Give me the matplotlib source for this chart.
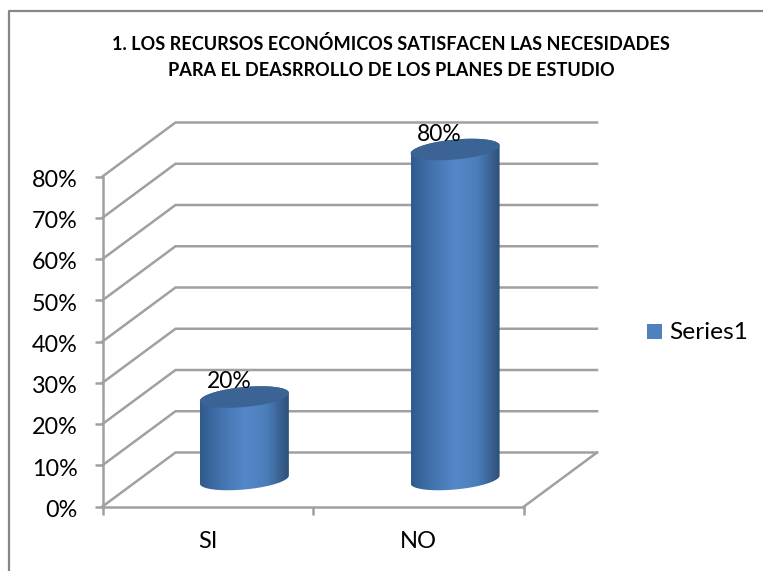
import numpy as np
import matplotlib
matplotlib.use('Agg')
import matplotlib.pyplot as plt
from matplotlib.colors import LinearSegmentedColormap
from matplotlib.patches import Polygon, Rectangle
from matplotlib.transforms import ScaledTranslation

plt.rcParams['font.family'] = ['Lato', 'DejaVu Sans']

title_lines = ['1. LOS RECURSOS ECONÓMICOS SATISFACEN LAS NECESIDADES',
               'PARA EL DEASRROLLO DE LOS PLANES DE ESTUDIO']
categories = ['SI', 'NO']
values = [20, 80]
value_ticks = [0, 10, 20, 30, 40, 50, 60, 70, 80]
series_name = 'Series1'

W, H = 763, 571
GRAY = '#a0a0a0'

# axes box is the front face of the fake 3D box, all in pixels of the reference
left, right, bottom, top = 102.5, 524.0, 506.5, 176.5
px_x = (right - left) / len(categories)
px_y = (bottom - top) / max(value_ticks)
depth_x = 73.0 / px_x
depth_y = 54.0 / px_y

fig = plt.figure(figsize=(W / 100, H / 100), dpi=100, facecolor='white')
ax = fig.add_axes([left / W, 1 - bottom / H, (right - left) / W, (bottom - top) / H])
ax.patch.set_visible(False)

# outer frame, only top and left are in the picture
fig.add_artist(plt.Line2D([8.5 / W, 8.5 / W, 1], [0, 1 - 10.5 / H, 1 - 10.5 / H],
                          color='#868686', lw=1.6))

fig.text(391 / W, 1 - 44.5 / H, title_lines[0], ha='center', va='center',
         fontsize=13.1, fontweight='bold', color='black')
fig.text(391 / W, 1 - 70 / H, title_lines[1], ha='center', va='center',
         fontsize=13.1, fontweight='bold', color='black')

# walls
n = len(categories)
for v in value_ticks:
    ax.plot([0, depth_x, n + depth_x], [v, v + depth_y, v + depth_y], color=GRAY, lw=1.8,
            clip_on=False, zorder=1, solid_joinstyle='miter')
ax.plot([n, n + depth_x], [0, depth_y], color=GRAY, lw=1.8, clip_on=False, zorder=1)

# cylinders
body_cmap = LinearSegmentedColormap.from_list(
    'body', ['#2f5a8f', '#4474ae', '#5588c9', '#4b7db9', '#2e5079'])
top_color = '#3b6394'
t = np.linspace(0, 2 * np.pi, 200)
rx = 44.5 / px_x
tilt = 4.0 / px_y
ry = 10.0 / px_y


def ring(cx, cy):
    return cx + rx * np.cos(t), cy + tilt * np.cos(t) + ry * np.sin(t)


for i, val in enumerate(values):
    cx = i + 0.5 + depth_x / 2
    cy0 = depth_y / 2
    cy1 = val + depth_y / 2

    # side = sweep of the ring from base to top
    xb, yb = ring(cx, cy0)
    xt, yt = ring(cx, cy1)
    low = np.sin(t) <= 0
    order = np.argsort(xb[low])
    xs = xb[low][order]
    ys = yb[low][order]
    order_t = np.argsort(xt[~low])[::-1]
    outline = np.column_stack([np.r_[xs, xt[~low][order_t]], np.r_[ys, yt[~low][order_t]]])
    clip = Polygon(outline, closed=True, transform=ax.transData, facecolor='none', edgecolor='none')
    ax.add_patch(clip)
    clip.set_clip_on(False)
    im = ax.imshow(np.linspace(0, 1, 256).reshape(1, -1), cmap=body_cmap, aspect='auto',
                   extent=[cx - rx, cx + rx, cy0 - ry * 2, cy1 + ry * 2], zorder=3)
    im.set_clip_box(fig.bbox)
    im.set_clip_path(clip)
    ax.fill(xt, yt, color=top_color, zorder=4, lw=0, clip_on=False)
    ax.text(i + 0.5 + 0.1, cy1 + 3.7, '%d%%' % val, ha='center', va='center',
            fontsize=16.5, color='black', zorder=5, clip_on=False)

ax.set_xlim(0, n)
ax.set_ylim(0, max(value_ticks))
for name in ['top', 'right']:
    ax.spines[name].set_visible(False)
for name in ['left', 'bottom']:
    ax.spines[name].set_color(GRAY)
    ax.spines[name].set_linewidth(1.8)
ax.set_yticks(value_ticks)
ax.set_yticklabels(['%d%%' % v for v in value_ticks], fontsize=16.8, color='black')
ax.set_xticks(range(n + 1))
ax.set_xticklabels([])
ax.set_xticks([i + 0.5 for i in range(n)], labels=categories, minor=True, fontsize=17)
ax.tick_params(axis='both', which='major', length=6, width=1.8, color=GRAY)
ax.tick_params(axis='x', which='minor', length=0, pad=18)
ax.tick_params(axis='y', pad=12)
nudge = ScaledTranslation(0, -1.3 / 72, fig.dpi_scale_trans)
for lbl in ax.get_yticklabels():
    lbl.set_transform(lbl.get_transform() + nudge)

# legend
fig.add_artist(Rectangle((647 / W, 1 - 339 / H), 15 / W, 15 / H, transform=fig.transFigure,
                         facecolor='#4f81bd', edgecolor='none'))
fig.text(669 / W, 1 - 332.5 / H, series_name, ha='left', va='center', fontsize=17.6, color='black')

fig.savefig('out.png', dpi=100)
